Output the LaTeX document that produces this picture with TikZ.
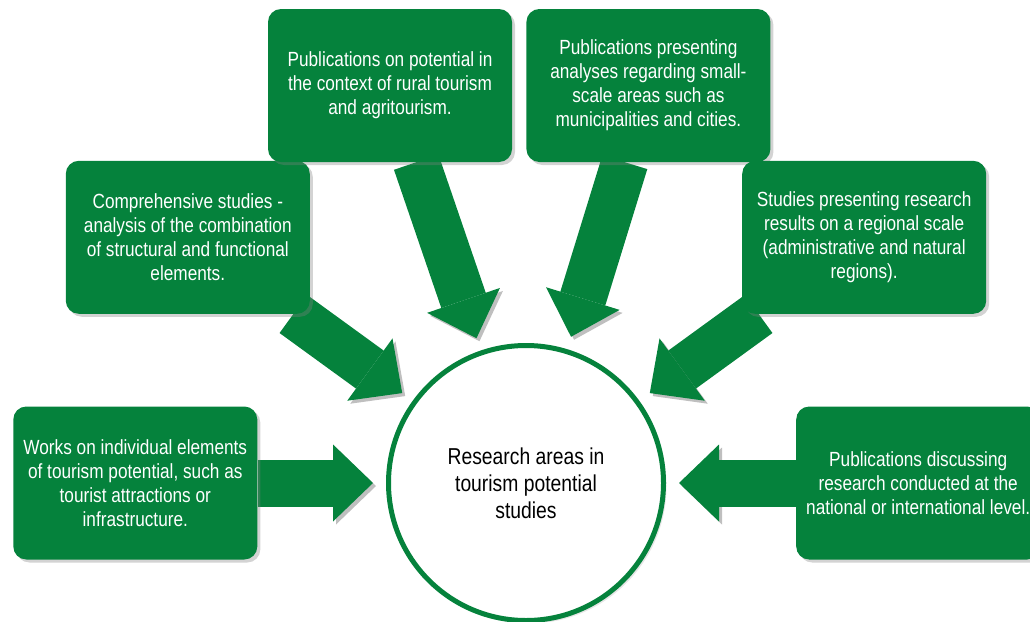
\documentclass[tikz,border=0pt]{standalone}
\usepackage{fontspec}
\setmainfont{Liberation Sans}[FakeStretch=0.84]
\usepackage{tikz}
\usetikzlibrary{arrows.meta, positioning, shadows, backgrounds}

\definecolor{leafgreen}{RGB}{5,130,60}

\begin{document}
\begin{tikzpicture}[
    x=1pt, y=1pt,
    topic/.style={rectangle, rounded corners=13pt, fill=leafgreen, text=white,
        minimum width=244pt, minimum height=153pt, inner sep=0pt, align=center,
        font=\fontsize{20.5}{24}\selectfont,
        drop shadow={shadow xshift=3pt, shadow yshift=-3pt, opacity=0.35}},
    hub/.style={circle, draw=leafgreen, line width=5pt, fill=white,
        minimum size=275pt, align=center, font=\fontsize{23}{27}\selectfont,
        drop shadow={shadow xshift=3pt, shadow yshift=-3pt, opacity=0.2}},
    feed/.style={draw=leafgreen, line width=47pt, shorten >=13pt,
        -{Triangle[length=40pt, width=77pt, line width=0pt]},
        preaction={draw=black, opacity=0.25,
            transform canvas={shift={(3pt,-3pt)}}}}
]
\useasboundingbox (0,0) rectangle (1030,-621);

\node[hub] (hub) at (526,-483) {Research areas in\\tourism potential\\studies};

\node[topic, left=128.5pt of hub] (works) {Works on individual elements\\of tourism potential, such as\\tourist attractions or\\infrastructure.};
\node[topic, above left=70pt and 117pt of hub] (comp) {Comprehensive studies -\\analysis of the combination\\of structural and functional\\elements.};
\node[topic] (rural) at (390,-85.5) {Publications on potential in\\the context of rural tourism\\and agritourism.};
\node[topic, right=14pt of rural] (small) {Publications presenting\\analyses regarding small-\\scale areas such as\\municipalities and cities.};
\node[topic, above right=70pt and 117pt of hub] (regional) {Studies presenting research\\results on a regional scale\\(administrative and natural\\regions).};
\node[topic, right=130pt of hub] (national) {Publications discussing\\research conducted at the\\national or international level.};

% block arrows run under the boxes
\begin{scope}[on background layer]
\draw[feed] (works) -- (hub);
\draw[feed] (comp) -- (hub);
\draw[feed] (rural) -- (hub);
\draw[feed] (small) -- (hub);
\draw[feed] (regional) -- (hub);
\draw[feed] (national) -- (hub);
\end{scope}
\end{tikzpicture}
\end{document}
